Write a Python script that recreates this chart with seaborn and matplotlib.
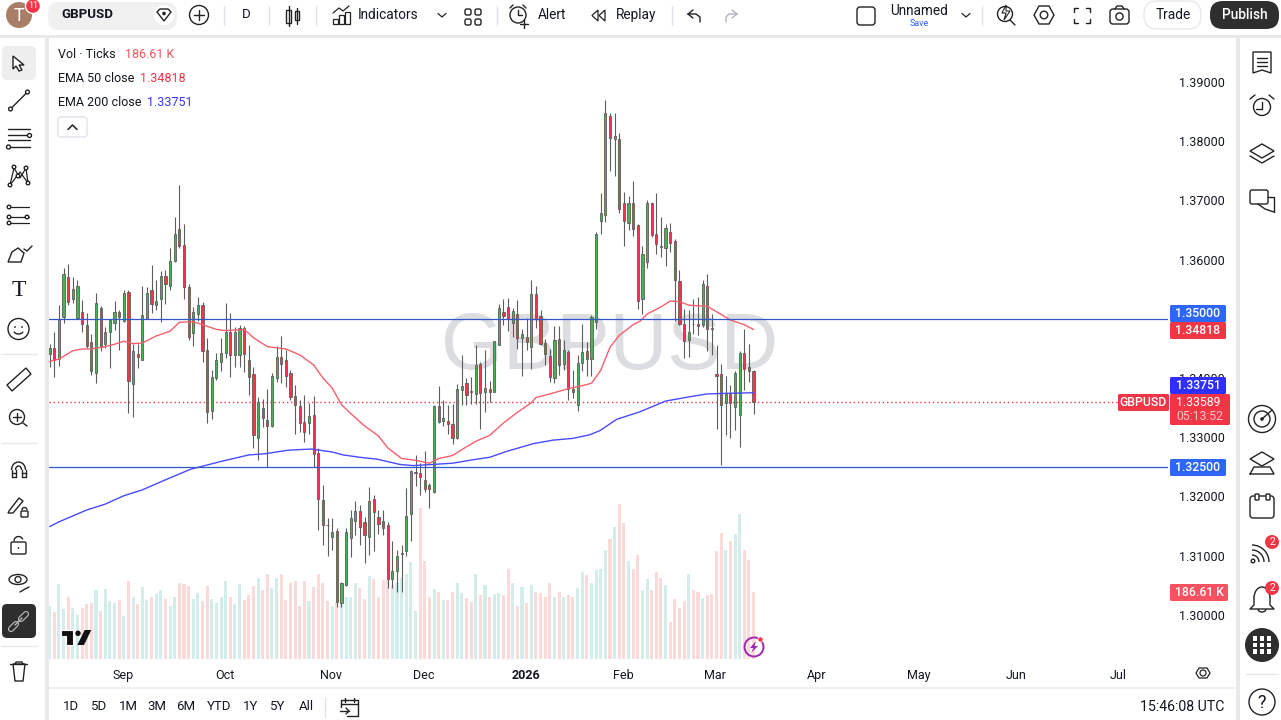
import numpy as np
import pandas as pd
import matplotlib
matplotlib.use("Agg")
import matplotlib.pyplot as plt
from matplotlib.patches import Circle, Rectangle, FancyBboxPatch, Polygon, Ellipse, Arc
import seaborn as sns

# daily candles
opens = [
    1.3440, 1.3450, 1.3432, 1.3503, 1.3570, 1.3533, 1.3502, 1.3511, 1.3490, 1.3460,
    1.3409, 1.3519, 1.3458, 1.3478, 1.3493, 1.3511, 1.3497, 1.3546, 1.3389, 1.3440,
    1.3431, 1.3502, 1.3548, 1.3524, 1.3534, 1.3573, 1.3556, 1.3597, 1.3651, 1.3624,
    1.3553, 1.3476, 1.3508, 1.3524, 1.3448, 1.3345, 1.3400, 1.3427, 1.3442, 1.3477,
    1.3439, 1.3439, 1.3485, 1.3430, 1.3406, 1.3299, 1.3350, 1.3329, 1.3319, 1.3400,
    1.3435, 1.3431, 1.3408, 1.3370, 1.3352, 1.3325, 1.3324, 1.3337, 1.3273, 1.3194,
    1.3152, 1.3131, 1.3141, 1.3020, 1.3050, 1.3130, 1.3159, 1.3175, 1.3157, 1.3132,
    1.3195, 1.3165, 1.3158, 1.3152, 1.3060, 1.3074, 1.3103, 1.3107, 1.3170, 1.3240,
    1.3239, 1.3228, 1.3219, 1.3207, 1.3353, 1.3327, 1.3327, 1.3322, 1.3298, 1.3379,
    1.3391, 1.3378, 1.3373, 1.3423, 1.3376, 1.3381, 1.3377, 1.3456, 1.3511, 1.3520,
    1.3493, 1.3508, 1.3468, 1.3469, 1.3453, 1.3542, 1.3504, 1.3459, 1.3437, 1.3400,
    1.3466, 1.3424, 1.3444, 1.3381, 1.3354, 1.3426, 1.3445, 1.3432, 1.3494, 1.3665,
    1.3675, 1.3842, 1.3804, 1.3804, 1.3695, 1.3662, 1.3695, 1.3659, 1.3534, 1.3596,
    1.3695, 1.3644, 1.3623, 1.3620, 1.3646, 1.3632, 1.3563, 1.3492, 1.3464, 1.3492,
    1.3492, 1.3489, 1.3556, 1.3485, 1.3407, 1.3407, 1.3357, 1.3373, 1.3351, 1.3338,
    1.3443, 1.3418, 1.3411,
]
highs = [
    1.3458, 1.3477, 1.3523, 1.3585, 1.3593, 1.3570, 1.3566, 1.3531, 1.3509, 1.3475,
    1.3543, 1.3521, 1.3486, 1.3500, 1.3530, 1.3515, 1.3549, 1.3548, 1.3458, 1.3458,
    1.3555, 1.3553, 1.3591, 1.3565, 1.3581, 1.3582, 1.3619, 1.3672, 1.3726, 1.3660,
    1.3558, 1.3520, 1.3536, 1.3529, 1.3467, 1.3413, 1.3442, 1.3467, 1.3527, 1.3509,
    1.3486, 1.3489, 1.3488, 1.3455, 1.3419, 1.3368, 1.3365, 1.3382, 1.3409, 1.3454,
    1.3471, 1.3447, 1.3414, 1.3388, 1.3363, 1.3371, 1.3357, 1.3369, 1.3282, 1.3220,
    1.3164, 1.3164, 1.3146, 1.3055, 1.3146, 1.3177, 1.3193, 1.3186, 1.3166, 1.3216,
    1.3203, 1.3177, 1.3177, 1.3157, 1.3125, 1.3110, 1.3118, 1.3214, 1.3245, 1.3270,
    1.3256, 1.3277, 1.3222, 1.3355, 1.3387, 1.3363, 1.3355, 1.3356, 1.3390, 1.3439,
    1.3400, 1.3401, 1.3456, 1.3427, 1.3448, 1.3395, 1.3463, 1.3525, 1.3533, 1.3535,
    1.3518, 1.3532, 1.3483, 1.3501, 1.3566, 1.3555, 1.3515, 1.3466, 1.3449, 1.3487,
    1.3487, 1.3465, 1.3448, 1.3414, 1.3438, 1.3492, 1.3460, 1.3507, 1.3647, 1.3713,
    1.3869, 1.3848, 1.3847, 1.3813, 1.3715, 1.3707, 1.3732, 1.3660, 1.3623, 1.3700,
    1.3697, 1.3713, 1.3672, 1.3660, 1.3662, 1.3634, 1.3582, 1.3516, 1.3514, 1.3534,
    1.3536, 1.3565, 1.3575, 1.3508, 1.3455, 1.3424, 1.3403, 1.3388, 1.3411, 1.3446,
    1.3482, 1.3457, 1.3414,
]
lows = [
    1.3419, 1.3401, 1.3421, 1.3493, 1.3523, 1.3526, 1.3500, 1.3478, 1.3450, 1.3405,
    1.3392, 1.3445, 1.3450, 1.3417, 1.3481, 1.3447, 1.3495, 1.3341, 1.3334, 1.3417,
    1.3430, 1.3500, 1.3509, 1.3515, 1.3495, 1.3525, 1.3548, 1.3596, 1.3620, 1.3534,
    1.3464, 1.3454, 1.3496, 1.3427, 1.3324, 1.3330, 1.3396, 1.3412, 1.3433, 1.3402,
    1.3419, 1.3419, 1.3410, 1.3371, 1.3281, 1.3262, 1.3317, 1.3250, 1.3317, 1.3393,
    1.3392, 1.3385, 1.3363, 1.3306, 1.3309, 1.3292, 1.3306, 1.3250, 1.3143, 1.3118,
    1.3099, 1.3110, 1.3013, 1.3013, 1.3049, 1.3097, 1.3135, 1.3118, 1.3087, 1.3101,
    1.3107, 1.3137, 1.3135, 1.3045, 1.3045, 1.3039, 1.3039, 1.3099, 1.3124, 1.3217,
    1.3203, 1.3207, 1.3181, 1.3205, 1.3324, 1.3319, 1.3306, 1.3289, 1.3297, 1.3355,
    1.3355, 1.3356, 1.3356, 1.3313, 1.3342, 1.3359, 1.3376, 1.3455, 1.3490, 1.3479,
    1.3470, 1.3449, 1.3403, 1.3448, 1.3415, 1.3484, 1.3456, 1.3422, 1.3394, 1.3391,
    1.3405, 1.3414, 1.3363, 1.3366, 1.3345, 1.3411, 1.3403, 1.3403, 1.3483, 1.3643,
    1.3664, 1.3749, 1.3741, 1.3679, 1.3623, 1.3650, 1.3639, 1.3517, 1.3508, 1.3586,
    1.3638, 1.3609, 1.3604, 1.3590, 1.3613, 1.3496, 1.3490, 1.3434, 1.3436, 1.3475,
    1.3472, 1.3486, 1.3446, 1.3438, 1.3313, 1.3253, 1.3303, 1.3299, 1.3312, 1.3284,
    1.3379, 1.3393, 1.3340,
]
closes = [
    1.3450, 1.3430, 1.3500, 1.3576, 1.3529, 1.3551, 1.3555, 1.3492, 1.3454, 1.3412,
    1.3526, 1.3453, 1.3477, 1.3498, 1.3512, 1.3503, 1.3544, 1.3395, 1.3445, 1.3436,
    1.3507, 1.3544, 1.3525, 1.3530, 1.3573, 1.3559, 1.3597, 1.3644, 1.3623, 1.3553,
    1.3469, 1.3512, 1.3524, 1.3446, 1.3343, 1.3401, 1.3430, 1.3443, 1.3477, 1.3438,
    1.3478, 1.3485, 1.3440, 1.3402, 1.3304, 1.3360, 1.3333, 1.3319, 1.3403, 1.3435,
    1.3424, 1.3403, 1.3368, 1.3355, 1.3324, 1.3309, 1.3335, 1.3271, 1.3195, 1.3151,
    1.3151, 1.3140, 1.3021, 1.3054, 1.3140, 1.3163, 1.3175, 1.3149, 1.3134, 1.3192,
    1.3173, 1.3154, 1.3146, 1.3060, 1.3074, 1.3100, 1.3104, 1.3167, 1.3243, 1.3242,
    1.3232, 1.3212, 1.3213, 1.3353, 1.3326, 1.3333, 1.3322, 1.3298, 1.3381, 1.3386,
    1.3371, 1.3377, 1.3422, 1.3374, 1.3383, 1.3376, 1.3462, 1.3518, 1.3505, 1.3499,
    1.3513, 1.3468, 1.3474, 1.3460, 1.3542, 1.3500, 1.3457, 1.3440, 1.3401, 1.3464,
    1.3422, 1.3447, 1.3382, 1.3377, 1.3425, 1.3444, 1.3432, 1.3503, 1.3644, 1.3678,
    1.3847, 1.3805, 1.3809, 1.3686, 1.3665, 1.3696, 1.3652, 1.3530, 1.3610, 1.3695,
    1.3642, 1.3626, 1.3621, 1.3654, 1.3628, 1.3566, 1.3492, 1.3463, 1.3477, 1.3491,
    1.3488, 1.3558, 1.3483, 1.3483, 1.3403, 1.3355, 1.3373, 1.3358, 1.3409, 1.3443,
    1.3415, 1.3412, 1.33589,
]
# tick volume in thousands
volumes = [
    147, 130, 208, 138, 172, 141, 122, 141, 152, 155,
    191, 135, 194, 161, 155, 163, 119, 216, 172, 152,
    200, 163, 174, 180, 191, 166, 147, 172, 213, 208,
    202, 166, 183, 161, 202, 166, 155, 172, 216, 172,
    152, 208, 163, 177, 202, 227, 191, 236, 197, 227,
    238, 163, 213, 216, 149, 216, 161, 200, 238, 213,
    161, 147, 158, 174, 174, 174, 211, 197, 166, 230,
    222, 174, 219, 219, 205, 213, 225, 238, 269, 133,
    422, 272, 174, 194, 186, 163, 163, 186, 213, 183,
    169, 158, 236, 177, 205, 174, 180, 183, 177, 252,
    213, 147, 200, 155, 205, 186, 183, 172, 211, 172,
    188, 172, 177, 174, 197, 241, 233, 211, 247, 252,
    303, 333, 369, 431, 378, 272, 252, 289, 191, 222,
    191, 241, 225, 205, 102, 166, 141, 161, 236, 191,
    188, 169, 177, 180, 300, 350, 305, 330, 347, 403,
    305, 275, 186.61,
]

ema50_idx = [
    0, 2, 5, 7, 9, 12, 14, 16, 18, 20, 23, 26, 28, 31, 33, 36, 38, 42, 44, 47, 51, 54,
    57, 59, 61, 63, 65, 68, 71, 73, 76, 79, 82, 84, 87, 89, 92, 95, 98, 101, 104, 105,
    108, 112, 114, 117, 119, 121, 123, 126, 127.5, 129, 132, 134, 136, 138, 142, 144,
    147, 150, 152,
]
ema50 = [
    1.3428, 1.3432, 1.3446, 1.3449, 1.3449, 1.3453, 1.3457, 1.3462, 1.3458, 1.3459,
    1.3471, 1.3479, 1.3494, 1.3495, 1.3490, 1.3482, 1.3480, 1.3482, 1.3468, 1.3453,
    1.3449, 1.3439, 1.3422, 1.3400, 1.3383, 1.3355, 1.3340, 1.3319, 1.3302, 1.3282,
    1.3264, 1.3261, 1.3256, 1.3264, 1.3269, 1.3279, 1.3293, 1.3303, 1.3324, 1.3342,
    1.3358, 1.3367, 1.3373, 1.3382, 1.3385, 1.3391, 1.3413, 1.3452, 1.3472, 1.3490,
    1.3496, 1.3508, 1.3520, 1.3530, 1.3529, 1.3523, 1.3521, 1.3512, 1.3498, 1.3490,
    1.34818,
]
ema200_idx = [
    0, 2, 5, 8, 12, 16, 20, 25, 30.5, 37, 43, 46.5, 51.5, 56.5, 61, 63.4, 67, 70.6,
    75.6, 78.5, 82.8, 87, 91.5, 95, 98.7, 104.4, 108.7, 113, 116.6, 118.8, 122.4,
    127.5, 133, 138, 141.9, 146, 152,
]
ema200 = [
    1.3149, 1.3157, 1.3167, 1.3177, 1.3187, 1.3201, 1.3211, 1.3228, 1.3246, 1.3259,
    1.3270, 1.3272, 1.3278, 1.3280, 1.3275, 1.3270, 1.3266, 1.3263, 1.3254, 1.3252,
    1.3254, 1.3256, 1.3262, 1.3266, 1.3276, 1.3289, 1.3295, 1.3298, 1.3304, 1.3311,
    1.3330, 1.3343, 1.3361, 1.3368, 1.3373, 1.3374, 1.33751,
]

# 1.35 sits under its own pill, so it gets no tick label
price_ticks = [1.30, 1.31, 1.32, 1.33, 1.34, 1.36, 1.37, 1.38, 1.39]
month_labels = ["Sep", "Oct", "Nov", "Dec", "2026", "Feb", "Mar", "Apr", "May", "Jun", "Jul"]
month_pos = [15.8, 37.9, 60.8, 80.8, 102.9, 123.8, 143.7, 165.7, 187.7, 208.7, 230.7]
levels = [1.35, 1.325]
last_price = 1.33589

GREEN = "#4caf50"
RED = "#f23645"
WICK = "#5d5d5d"
TEXT = "#131722"
GAP = "#e9e9ea"

sns.set_theme(style="white")
plt.rcParams["font.family"] = ["Roboto", "DejaVu Sans"]

df = pd.DataFrame({"idx": np.arange(len(opens)), "open": opens, "high": highs,
                   "low": lows, "close": closes, "vol": volumes})
df["dir"] = np.where(df["close"] >= df["open"], "up", "down")

fig = plt.figure(figsize=(12.81, 7.2), dpi=100, facecolor=GAP)
W, H = 1281.0, 720.0


def px_axes(x0, y0, x1, y1):
    return [x0 / W, 1 - y1 / H, (x1 - x0) / W, (y1 - y0) / H]


# panels behind everything
bg = fig.add_axes([0, 0, 1, 1], zorder=-5)
bg.set_xlim(0, W)
bg.set_ylim(H, 0)
bg.axis("off")
for x0, y0, x1, y1 in [(0, 0, 1281, 35), (0, 38, 45, 720), (49, 38, 1236, 720), (1240, 38, 1281, 720)]:
    bg.add_patch(Rectangle((x0, y0), x1 - x0, y1 - y0, fc="white", ec="none"))
bg.plot([49, 1236], [688, 688], color="#ececec", lw=1.2)

# volume pane sits under the candles
ax2 = fig.add_axes(px_axes(49, 38, 1168, 659), zorder=1)
ax2.patch.set_visible(False)
sns.barplot(data=df, x="idx", y="vol", hue="dir", palette={"up": "#d2edea", "down": "#fcdada"},
            native_scale=True, dodge=False, width=0.68, legend=False, ax=ax2, saturation=1)
# hue groups come out too thin on the numeric scale
for p in ax2.patches:
    mid = p.get_x() + p.get_width() / 2
    p.set_width(0.66)
    p.set_x(mid - 0.33)
    p.set_linewidth(0)
ax2.set_ylim(0, 1730)
ax2.set_xlabel("")
ax2.set_ylabel("")
ax2.set_yticks([])
ax2.set_xticks([])

ax = fig.add_axes(px_axes(49, 38, 1168, 659), zorder=2)
ax.patch.set_visible(False)
ax.set_ylim(1.29253, 1.39743)

ax.text(0.501, 0.5, "GBPUSD", transform=ax.transAxes, ha="center", va="center", fontsize=57.5,
        color="#dcdde0", family="Liberation Sans", zorder=0)

ax.vlines(df["idx"], df["low"], df["high"], color=WICK, lw=0.8, zorder=3)
bar_colors = [GREEN if d == "up" else RED for d in df["dir"]]
ax.bar(df["idx"], (df["close"] - df["open"]).abs(), bottom=df[["open", "close"]].min(axis=1),
       width=0.47, color=bar_colors, edgecolor=WICK, linewidth=0.6, zorder=4)

sns.lineplot(x=ema50_idx, y=ema50, color="#f7606c", lw=1.0, ax=ax, zorder=5, estimator=None, sort=False)
sns.lineplot(x=ema200_idx, y=ema200, color="#4a4aff", lw=1.0, ax=ax, zorder=5, estimator=None, sort=False)

for lvl in levels:
    ax.axhline(lvl, color="#3058c8", lw=0.9, zorder=6)
ax.axhline(last_price, color=RED, lw=1, ls=(0, (1, 2)), zorder=2)

ax.yaxis.tick_right()
ax.set_yticks(price_ticks)
ax.set_yticklabels([f"{p:.5f}" for p in price_ticks], fontsize=9, color=TEXT)
ax.set_xticks(month_pos)
ax.set_xticklabels(month_labels, fontsize=9, color=TEXT)
ax.get_xticklabels()[4].set_fontweight("bold")
ax.tick_params(axis="y", length=0, pad=8)
ax.tick_params(axis="x", length=0, pad=7)
ax.set_xlabel("")
ax.set_ylabel("")
for a in (ax, ax2):
    a.set_xlim(-0.15, 241.5)
    for s in a.spines.values():
        s.set_visible(False)

# screen furniture in pixel coordinates
ui = fig.add_axes([0, 0, 1, 1], zorder=10)
ui.patch.set_visible(False)
ui.set_xlim(0, W)
ui.set_ylim(H, 0)
ui.axis("off")


def txt(x, y, s, size=9.5, color=TEXT, ha="left", weight="normal", **kw):
    ui.text(x, y, s, fontsize=size, color=color, ha=ha, va="center", fontweight=weight, **kw)


def line(xs, ys, color="#222222", lw=1.0):
    ui.plot(xs, ys, color=color, lw=lw, solid_capstyle="round")


def circ(x, y, r, fc="none", ec="#222222", lw=1.0, z=3):
    ui.add_patch(Circle((x, y), r, fc=fc, ec=ec, lw=lw, zorder=z))


def box(x0, y0, x1, y1, fc="none", ec="#222222", lw=1.0, r=2.0, z=2):
    ui.add_patch(FancyBboxPatch((x0 + r, y0 + r), x1 - x0 - 2 * r, y1 - y0 - 2 * r,
                                boxstyle=f"round,pad={r}", fc=fc, ec=ec, lw=lw, zorder=z))


def pill(x0, y0, x1, y1, fc, label, ha="center", size=8.8):
    box(x0, y0, x1, y1, fc=fc, ec="none", r=1.5, z=4)
    ui.text((x0 + x1) / 2, (y0 + y1) / 2, label, color="white", fontsize=size, ha=ha, va="center",
            zorder=5, fontweight="medium")


# price pills
pill(1170, 305, 1226, 322, "#2e67f8", "1.35000")
pill(1170, 322, 1226, 339, RED, "1.34818")
pill(1170, 377, 1226, 394, "#2f2fff", "1.33751")
pill(1118, 394, 1169, 411, RED, "GBPUSD")
box(1170, 394, 1230, 425, fc=RED, ec="none", r=1.5, z=4)
ui.text(1198, 402.5, "1.33589", color="white", fontsize=8.8, ha="center", va="center", zorder=5)
ui.text(1200, 416.5, "05:13:52", color="#fbc4c9", fontsize=8.8, ha="center", va="center", zorder=5)
pill(1170, 459, 1226, 476, "#2e67f8", "1.32500")
pill(1170, 584, 1228, 601, "#f7525f", "186.61 K")

# legend block
txt(58, 54.5, "Vol · Ticks", 9)
txt(125, 54.5, "186.61 K", 9, "#f7525f")
txt(58, 78.5, "EMA 50 close", 9)
txt(140, 78.5, "1.34818", 9, RED)
txt(58, 102.5, "EMA 200 close", 9)
txt(147, 102.5, "1.33751", 9, "#3535ff")
box(58, 117, 87, 137, ec="#e0e3eb", r=3)
line([68, 72.5, 77], [129.5, 125, 129.5], lw=1.1)

# top bar
circ(19, 15, 13, fc="#a87f66", ec="none")
txt(19, 16, "T", 13, "white", "center")
circ(33, 6, 7.5, fc=RED, ec="white", lw=1, z=4)
ui.text(33, 6, "11", color="white", fontsize=6.5, ha="center", va="center", zorder=5)
box(48, 2, 177, 30, fc="#f0f0f0", ec="none", r=12)
txt(61, 15, "GBPUSD", 9.5, weight="bold")
circ(164, 15, 10, fc="white", ec="none")
ui.add_patch(Polygon([(157, 12), (160, 9), (168, 9), (171, 12), (164, 21)], closed=True, fc="none", ec="#222222", lw=1, zorder=4))
circ(164, 13.5, 1.8, fc="#222222", ec="none", z=4)
circ(199, 15, 9.5)
line([194, 204], [15, 15])
line([199, 199], [10, 20])
for sx in [224, 269, 316, 497, 672, 982]:
    line([sx, sx], [6, 25], "#e0e3eb", 1)
txt(246, 15, "D", 9.5, ha="center")
ui.add_patch(Rectangle((286, 10), 5, 13, fc="none", ec="#222222", lw=1))
ui.add_patch(Rectangle((295, 11), 4, 9, fc="none", ec="#222222", lw=1))
line([288.5, 288.5], [6, 26])
line([297, 297], [8, 24])
for bx, by in [(333, 19), (339, 15), (345, 12)]:
    ui.add_patch(Rectangle((bx, by), 5, 24 - by, fc="none", ec="#222222", lw=0.9))
line([333, 339, 343, 349], [13, 8, 11, 6], lw=0.9)
txt(358, 15, "Indicators", 9.8)
line([438, 442, 446], [13.5, 17, 13.5], lw=0.9)
for gx, gy in [(465, 9), (475, 9), (465, 19), (475, 19)]:
    box(gx, gy, gx + 6, gy + 6, r=1.8)
circ(518, 15, 8)
line([518, 518, 522], [10, 15, 15])
line([524, 524], [20, 28])
line([520, 528], [24, 24])
line([510, 513], [8, 5])
line([526, 523], [8, 5])
txt(538, 15, "Alert", 9.8)
ui.add_patch(Polygon([(598, 10), (592, 15.5), (598, 21)], closed=True, fc="none", ec="#222222", lw=0.9))
ui.add_patch(Polygon([(605, 10), (599, 15.5), (605, 21)], closed=True, fc="none", ec="#222222", lw=0.9))
txt(616, 15, "Replay", 9.8)
line([688, 693], [14, 10])
line([688, 693], [14, 18])
line([688, 696, 700, 700], [14, 14, 17, 22])
line([737, 732], [14, 10], "#b2b5be")
line([737, 732], [14, 18], "#b2b5be")
line([737, 729, 726, 726], [14, 14, 17, 22], "#b2b5be")
box(857, 7, 875, 25, r=3)
txt(890, 11, "Unnamed", 9.8)
txt(919, 23, "Save", 6.5, "#2962ff", "center")
line([962, 966, 970], [13.5, 17, 13.5], lw=0.9)
circ(1005, 14, 7.5)
line([1010, 1015], [20, 25])
ui.add_patch(Polygon([(1006, 5), (1002, 13), (1006, 13), (1004, 20), (1010, 11), (1006, 11)], closed=True, fc="white", ec="#222222", lw=0.8, zorder=4))
ui.add_patch(Polygon([(1034, 15), (1039, 6), (1049, 6), (1054, 15), (1049, 24), (1039, 24)], closed=True, fc="none", ec="#222222", lw=1))
circ(1044, 15, 3.8)
for cx, cy, dx, dy in [(1074, 8, 1, 1), (1090, 8, -1, 1), (1074, 23, 1, -1), (1090, 23, -1, -1)]:
    line([cx + 4 * dx, cx, cx], [cy, cy, cy + 4 * dy])
box(1110, 9, 1129, 24, r=3)
line([1115, 1117, 1122, 1124], [9, 6, 6, 9])
circ(1119.5, 16.5, 3.6)
box(1144, 1, 1201, 29, fc="white", ec="#e8e8e8", r=13)
txt(1173, 15, "Trade", 9.8, ha="center", zorder=4)
box(1210, 1, 1279, 29, fc="#2e2e2e", ec="none", r=13)
txt(1244.5, 15, "Publish", 9.8, "white", "center", zorder=4, weight="medium")

# left tools
box(2, 46, 36, 80, fc="#eeeeee", ec="none", r=5)
ui.add_patch(Polygon([(13, 56), (13, 69), (16, 66), (19, 71), (22, 70), (19, 65), (24, 65)], closed=True, fc="white", ec="#222222", lw=1, zorder=3))
circ(10.5, 109, 1.9, fc="white")
circ(27.5, 92, 1.9, fc="white")
line([12, 26], [107.5, 93.5])
for ly in [129, 135, 140, 147]:
    line([8, 30], [ly, ly])
circ(29.5, 135.5, 2, fc="white")
circ(8.5, 147, 2, fc="white")
line([10, 14, 20, 26, 28], [185, 168, 178, 168, 183], lw=0.9)
line([10, 20, 28], [185, 172, 183], lw=0.9)
for px_, py_ in [(10, 185), (14, 167), (26, 168), (28, 183), (18, 176)]:
    circ(px_, py_, 1.8, fc="white")
for ly, x2 in [(207, 29), (217, 29), (223, 29)]:
    line([9, x2], [ly, ly], lw=0.9)
for px_, py_ in [(9, 207), (9, 217), (9, 223), (27, 217)]:
    circ(px_, py_, 1.8, fc="white")
ui.add_patch(Polygon([(8, 262), (21, 262), (24, 253), (18, 248), (12, 252)], closed=True, fc="none", ec="#222222", lw=1))
line([24, 27, 32], [249, 251, 246])
txt(18.5, 291, "T", 17, ha="center", family="Liberation Serif")
circ(18.5, 329, 10.5)
circ(15, 327, 0.9, fc="#222222", ec="none")
circ(22, 327, 0.9, fc="#222222", ec="none")
ui.add_patch(Arc((18.5, 330), 10, 8, theta1=20, theta2=160, ec="#222222", lw=1))
line([1, 37], [354, 354], "#e8e8e8", 1)
ui.add_patch(Polygon([(7, 385), (26, 368), (31, 374), (12, 391)], closed=True, fc="none", ec="#222222", lw=1))
circ(17, 417, 7.5)
line([23, 27], [423, 426])
line([13, 21], [417, 417])
line([17, 17], [413, 421])
line([1, 37], [443, 443], "#e8e8e8", 1)
ui.add_patch(Arc((18.5, 470), 14, 16, theta1=180, theta2=360, ec="#222222", lw=1))
line([11.5, 11.5], [470, 477])
line([25.5, 25.5], [470, 477])
ui.add_patch(Arc((18.5, 470), 6, 8, theta1=180, theta2=360, ec="#222222", lw=1))
line([15.5, 15.5], [470, 477])
line([21.5, 21.5], [470, 477])
line([11.5, 15.5], [473, 473])
line([21.5, 25.5], [473, 473])
line([11.5, 15.5], [477, 477])
line([21.5, 25.5], [477, 477])
ui.add_patch(Polygon([(9, 511), (19, 498), (23, 501), (13, 513), (8, 513)], closed=True, fc="none", ec="#222222", lw=1))
box(21, 511, 28, 517, r=1)
ui.add_patch(Arc((24.5, 510), 5, 5, theta1=180, theta2=360, ec="#222222", lw=1))
box(11, 542, 26, 554, r=1.5)
ui.add_patch(Arc((18.5, 541), 9, 9, theta1=180, theta2=340, ec="#222222", lw=1))
circ(18.5, 548, 0.9, fc="#222222", ec="none")
ui.add_patch(Ellipse((18, 579.5), 18, 10, fc="none", ec="#222222", lw=1))
circ(18, 579.5, 3)
line([20, 25, 29], [592, 589, 587])
box(2, 604, 36, 638, fc="#2e2e2e", ec="none", r=5)
line([11, 16], [629, 624], "#b8b8b8", 4.5)
line([11, 16], [629, 624], "#2e2e2e", 2.8)
line([21, 26], [619, 614], "#b8b8b8", 4.5)
line([21, 26], [619, 614], "#2e2e2e", 2.8)
line([15, 22], [625, 618], "#b8b8b8", 1)
line([1, 37], [646, 646], "#e8e8e8", 1)
line([10, 27], [664, 664])
ui.add_patch(Polygon([(13, 664), (15, 681), (23, 681), (25, 664)], closed=True, fc="none", ec="#222222", lw=1))
line([15, 16, 22, 23], [664, 662, 662, 664])

# tv logo and the flash badge
ui.add_patch(Polygon([(60.7, 630), (73, 630), (73, 645), (66.3, 645), (66.3, 636), (60.7, 636)], closed=True, fc="#111111", ec="white", lw=0.8, zorder=4))
circ(78, 633.3, 2.7, fc="#111111", ec="none", z=4)
ui.add_patch(Polygon([(77.3, 645), (84, 645), (91.3, 630), (84.7, 630)], closed=True, fc="#111111", ec="none", zorder=4))
circ(754, 647, 9.5, ec="#9c27b0", lw=1.4, z=4)
ui.add_patch(Polygon([(756, 641), (750, 648), (753.5, 648), (751, 653), (758, 646), (754.5, 646)], closed=True, fc="#9c27b0", ec="none", zorder=4))
circ(760.5, 639.5, 2.6, fc=RED, ec="white", lw=0.5, z=5)

# bottom row
for bx, lab in zip([71, 99, 128, 157, 186, 219, 251, 278, 306],
                   ["1D", "5D", "1M", "3M", "6M", "YTD", "1Y", "5Y", "All"]):
    txt(bx, 707, lab, 9.5, ha="center")
line([325, 325], [697, 717], "#e0e3eb", 1)
line([341, 341, 358, 358, 347], [707, 700, 700, 716, 716])
line([341, 358], [703.5, 703.5])
line([345, 345], [698, 702])
line([354, 354], [698, 702])
line([340, 349], [711, 711])
line([346, 349, 346], [708, 711, 714])
txt(1225, 707, "15:46:08 UTC", 10.2, ha="right")
circ(1203, 673, 3, lw=0.9)
ui.add_patch(Polygon([(1196, 673), (1199, 668), (1207, 668), (1210, 673), (1207, 678), (1199, 678)], closed=True, fc="none", ec="#222222", lw=0.9))

# right tools
ui.add_patch(Polygon([(1253, 52), (1271, 52), (1271, 73), (1262, 70), (1253, 73)], closed=True, fc="none", ec="#222222", lw=1))
for ly in [58, 62, 66]:
    line([1257, 1267], [ly, ly])
circ(1262, 107, 8.5)
line([1262, 1262, 1256], [102, 108.5, 108.5])
line([1250, 1255], [99, 95])
line([1274, 1269], [99, 95])
ui.add_patch(Polygon([(1250, 151), (1262, 144), (1274, 151), (1262, 158)], closed=True, fc="none", ec="#222222", lw=1))
line([1250, 1262, 1274], [156, 163, 156])
box(1250, 190, 1268, 204, r=2)
line([1268, 1274, 1274], [197, 197, 212])
line([1258, 1265, 1274], [204, 209, 212])
circ(1262, 419, 13.5)
circ(1262, 419, 8)
circ(1262, 419, 1.8, fc="#222222", ec="none")
line([1262, 1272], [419, 410])
ui.add_patch(Polygon([(1250, 459), (1262, 452), (1274, 459), (1262, 466)], closed=True, fc="white", ec="#222222", lw=1, zorder=3))
line([1250, 1254, 1270, 1274, 1250], [474, 467, 467, 474, 474])
box(1250, 496, 1274, 518, r=3)
box(1255, 494, 1259, 500, fc="white", r=1, z=3)
box(1266, 494, 1270, 500, fc="white", r=1, z=3)
circ(1253, 561, 1.8)
ui.add_patch(Arc((1252, 562), 14, 14, theta1=270, theta2=360, ec="#222222", lw=1))
ui.add_patch(Arc((1252, 562), 24, 24, theta1=270, theta2=360, ec="#222222", lw=1))
ui.add_patch(Arc((1252, 562), 34, 34, theta1=270, theta2=360, ec="#222222", lw=1))
circ(1272, 542, 7, fc=RED, ec="none", z=4)
ui.text(1272, 542, "2", color="white", fontsize=7.5, ha="center", va="center", zorder=5)
ui.add_patch(Arc((1262, 598), 16, 22, theta1=180, theta2=360, ec="#222222", lw=1))
line([1254, 1254, 1250, 1274, 1270, 1270], [598, 605, 609, 609, 605, 598])
ui.add_patch(Arc((1262, 609), 8, 6, theta1=0, theta2=180, ec="#222222", lw=1))
circ(1272, 588, 7, fc=RED, ec="none", z=4)
ui.text(1272, 588, "2", color="white", fontsize=7.5, ha="center", va="center", zorder=5)
circ(1262, 645, 17, fc="#2e2e2e", ec="none")
for gx in [1255, 1262, 1269]:
    for gy in [638.5, 645, 651.5]:
        ui.add_patch(Rectangle((gx - 2.4, gy - 2.2), 4.8, 4.4, fc="white", ec="none", zorder=4))
line([1246, 1278], [674, 674], "#e8e8e8", 1)
circ(1262, 702, 13)
txt(1262, 703, "?", 13, ha="center")

fig.savefig("out.png", dpi=100, facecolor=fig.get_facecolor())
